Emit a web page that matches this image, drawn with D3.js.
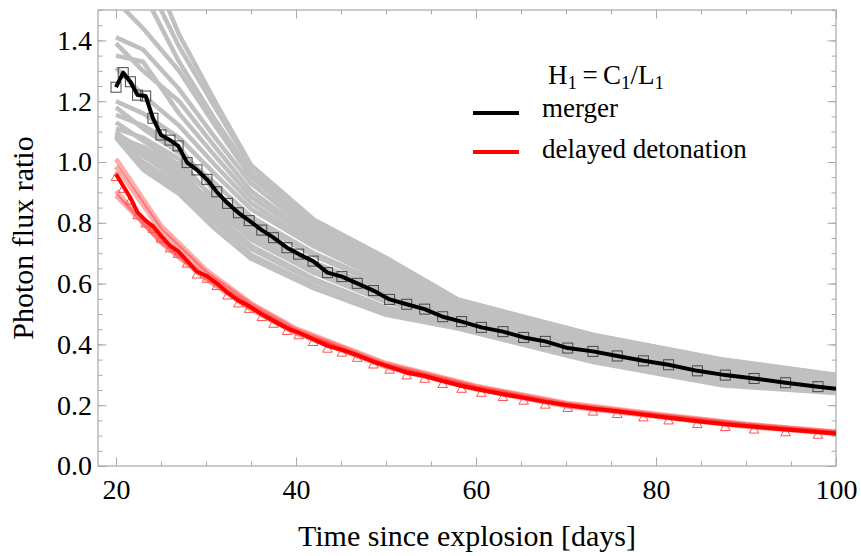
<!DOCTYPE html>
<html><head><meta charset="utf-8">
<script src="https://cdn.jsdelivr.net/npm/d3@7/dist/d3.min.js"></script>
<style>body{margin:0;background:#fff}text{font-family:"Liberation Serif","Times New Roman",serif;fill:#000}</style>
</head><body>
<svg id="chart" width="861" height="556"></svg>
<script>
// ---- data ----
const times = [20.0, 20.8, 21.6, 22.4, 23.3, 24.1, 25.0, 26.0, 26.9, 27.9, 29.0, 30.1, 31.2, 32.4, 33.6, 34.8,
  36.2, 37.5, 39.0, 40.3, 41.9, 43.5, 45.1, 46.8, 48.6, 50.4, 52.3, 54.3, 56.3, 58.4, 60.6, 63.0, 65.3, 67.7,
  70.2, 73.0, 75.7, 78.6, 81.4, 84.6, 87.7, 90.9, 94.4, 98.0, 100.0];
const mergerValues = [1.246, 1.294, 1.264, 1.220, 1.217, 1.144, 1.089, 1.072, 1.053, 0.998, 0.974, 0.943, 0.902,
  0.864, 0.833, 0.807, 0.776, 0.751, 0.718, 0.697, 0.674, 0.636, 0.623, 0.601, 0.577, 0.548, 0.532, 0.516, 0.491,
  0.475, 0.456, 0.442, 0.423, 0.410, 0.388, 0.377, 0.362, 0.346, 0.333, 0.313, 0.299, 0.288, 0.274, 0.261, 0.254];
const ddtValues = [0.960, 0.921, 0.882, 0.834, 0.807, 0.789, 0.757, 0.725, 0.707, 0.675, 0.639, 0.625, 0.601,
  0.570, 0.544, 0.526, 0.499, 0.477, 0.453, 0.439, 0.417, 0.395, 0.382, 0.365, 0.343, 0.326, 0.307, 0.296, 0.279,
  0.263, 0.250, 0.236, 0.224, 0.211, 0.200, 0.188, 0.180, 0.169, 0.159, 0.147, 0.137, 0.129, 0.120, 0.112, 0.107];

const modelTimes = [20, 23, 27, 31, 35, 42, 50, 58, 73, 87.5, 100];
const mergerModels = [
  [1.95, 1.70, 1.42, 1.20, 0.99, 0.81, 0.685, 0.548, 0.432, 0.350, 0.300],
  [1.80, 1.62, 1.38, 1.18, 0.985, 0.805, 0.678, 0.545, 0.430, 0.349, 0.299],
  [1.72, 1.56, 1.33, 1.14, 0.965, 0.795, 0.666, 0.541, 0.427, 0.347, 0.297],
  [1.53, 1.44, 1.30, 1.12, 0.95, 0.78, 0.657, 0.536, 0.423, 0.344, 0.295],
  [1.41, 1.37, 1.24, 1.08, 0.93, 0.765, 0.646, 0.530, 0.419, 0.341, 0.293],
  [1.39, 1.30, 1.20, 1.05, 0.905, 0.752, 0.636, 0.526, 0.415, 0.337, 0.291],
  [1.35, 1.33, 1.16, 1.02, 0.885, 0.745, 0.630, 0.522, 0.411, 0.334, 0.289],
  [1.31, 1.22, 1.12, 0.99, 0.865, 0.73, 0.616, 0.514, 0.405, 0.330, 0.286],
  [1.20, 1.16, 1.08, 0.96, 0.845, 0.722, 0.608, 0.507, 0.401, 0.327, 0.284],
  [1.18, 1.11, 1.03, 0.93, 0.82, 0.70, 0.595, 0.500, 0.395, 0.322, 0.280],
  [1.155, 1.12, 1.05, 0.90, 0.805, 0.692, 0.588, 0.496, 0.391, 0.319, 0.278],
  [1.13, 1.07, 0.99, 0.88, 0.785, 0.67, 0.575, 0.488, 0.385, 0.312, 0.273],
  [1.11, 1.08, 1.01, 0.87, 0.775, 0.662, 0.568, 0.482, 0.380, 0.307, 0.270],
  [1.095, 1.04, 0.965, 0.86, 0.76, 0.645, 0.555, 0.474, 0.372, 0.298, 0.264],
  [1.083, 1.05, 0.98, 0.845, 0.752, 0.638, 0.548, 0.469, 0.367, 0.292, 0.259],
  [1.095, 1.03, 0.955, 0.85, 0.745, 0.635, 0.54, 0.468, 0.360, 0.284, 0.253],
  [1.10, 1.02, 0.94, 0.83, 0.725, 0.615, 0.522, 0.462, 0.353, 0.276, 0.248],
  [1.09, 1.00, 0.925, 0.815, 0.715, 0.608, 0.515, 0.459, 0.350, 0.272, 0.245],
  [1.085, 0.985, 0.91, 0.80, 0.695, 0.592, 0.503, 0.454, 0.345, 0.267, 0.242],
  [1.08, 0.975, 0.895, 0.78, 0.682, 0.584, 0.497, 0.452, 0.342, 0.265, 0.240]
];

const ddtModelTimes = [20, 25, 30, 35, 40, 50, 60, 70, 80, 90, 100];
const ddtModels = [
  [1.010, 0.790, 0.645, 0.535, 0.452, 0.338, 0.263, 0.207, 0.171, 0.138, 0.113],
  [0.985, 0.775, 0.635, 0.530, 0.447, 0.334, 0.260, 0.204, 0.168, 0.136, 0.111],
  [0.905, 0.735, 0.615, 0.515, 0.437, 0.326, 0.253, 0.197, 0.163, 0.130, 0.106],
  [0.890, 0.740, 0.620, 0.520, 0.440, 0.329, 0.256, 0.200, 0.165, 0.133, 0.108]
];

const xTicks = [20, 40, 60, 80, 100];
const yTicks = [0.0, 0.2, 0.4, 0.6, 0.8, 1.0, 1.2, 1.4];
const xLabel = "Time since explosion [days]";
const yLabel = "Photon flux ratio";
const legendNames = ["merger", "delayed detonation"];
const legendColors = ["#000000", "#ff0000"];

// ---- layout ----
const L = 98, R = 836, T = 10, B = 466;
const x = d3.scaleLinear().domain([18, 100]).range([L, R]);
const y = d3.scaleLinear().domain([0, 1.5]).range([B, T]);
const svg = d3.select("#chart");

svg.append("clipPath").attr("id", "clip").append("rect")
  .attr("x", L).attr("y", T).attr("width", R - L).attr("height", B - T);

const frameColor = "#a8a8a8";
const minorX = d3.range(20, 100.1, 5), minorY = d3.range(0, 1.501, 0.05);

function ticks(axisFn, scale, vals, size, tr, fmt, pad) {
  const a = axisFn(scale).tickValues(vals).tickSize(size).tickPadding(pad || 0).tickFormat(fmt || "");
  const g = svg.append("g").attr("transform", tr).call(a);
  g.select(".domain").remove();
  g.selectAll("line").attr("stroke", frameColor).attr("stroke-width", 1);
  return g;
}
ticks(d3.axisBottom, x, minorX, -4.5, `translate(0,${B})`);
ticks(d3.axisTop, x, minorX, -4.5, `translate(0,${T})`);
ticks(d3.axisLeft, y, minorY, -4.5, `translate(${L},0)`);
ticks(d3.axisRight, y, minorY, -4.5, `translate(${R},0)`);
const gx = ticks(d3.axisBottom, x, xTicks, -8.5, `translate(0,${B})`, d3.format("d"), 13);
const gy = ticks(d3.axisLeft, y, yTicks, -8.5, `translate(${L},0)`, d3.format(".1f"), 6);
ticks(d3.axisTop, x, xTicks, -8.5, `translate(0,${T})`);
ticks(d3.axisRight, y, yTicks, -8.5, `translate(${R},0)`);
[gx, gy].forEach(g => g.selectAll("text").attr("fill", "#000")
  .style("font-family", '"Liberation Serif","Times New Roman",serif').style("font-size", "28px"));

svg.append("rect").attr("x", L).attr("y", T).attr("width", R - L).attr("height", B - T)
  .attr("fill", "none").attr("stroke", frameColor).attr("stroke-width", 1.2);

const plot = svg.append("g").attr("clip-path", "url(#clip)");
const modelLine = tt => d3.line().x((d, i) => x(tt[i])).y(d => y(d));

plot.selectAll(".gm").data(mergerModels).join("path")
  .attr("d", modelLine(modelTimes)).attr("fill", "none")
  .attr("stroke", "#c0c0c0").attr("stroke-width", 4.5).attr("stroke-linejoin", "round");

plot.selectAll(".pm").data(ddtModels).join("path")
  .attr("d", modelLine(ddtModelTimes)).attr("fill", "none")
  .attr("stroke", "#ff0000").attr("stroke-opacity", 0.32).attr("stroke-width", 5).attr("stroke-linejoin", "round");

const markerIdx = d3.range(times.length).filter(i => times[i] < 99);

plot.selectAll(".tri").data(markerIdx).join("path")
  .attr("d", d3.symbol(d3.symbolTriangle, 40)())
  .attr("transform", i => `translate(${x(times[i])},${y(ddtValues[i]) + 3.5})`)
  .attr("fill", "none").attr("stroke", "#ff5050").attr("stroke-width", 1);
plot.selectAll(".sq").data(markerIdx).join("rect")
  .attr("x", i => x(times[i]) - 5).attr("y", i => y(mergerValues[i]) - 5)
  .attr("width", 10).attr("height", 10)
  .attr("fill", "none").attr("stroke", "#4a4450").attr("stroke-width", 1);

const seriesLine = vals => d3.line().x((d, i) => x(times[i])).y(d => y(d))(vals);
plot.append("path").attr("d", seriesLine(ddtValues)).attr("fill", "none")
  .attr("stroke", legendColors[1]).attr("stroke-width", 4).attr("stroke-linejoin", "round");
plot.append("path").attr("d", seriesLine(mergerValues)).attr("fill", "none")
  .attr("stroke", legendColors[0]).attr("stroke-width", 4).attr("stroke-linejoin", "round");

svg.append("text").attr("x", 467).attr("y", 546).attr("text-anchor", "middle")
  .style("font-size", "30px").text(xLabel);
svg.append("text").attr("transform", `translate(33,${(T + B) / 2}) rotate(-90)`).attr("text-anchor", "middle")
  .style("font-size", "30px").text(yLabel);

// legend
const lt = svg.append("text").attr("x", 548).attr("y", 84).style("font-size", "27px");
const parts = [["H", 0], ["1", 1], ["\u2009=\u2009C", 0], ["1", 1], ["/L", 0], ["1", 1]];
parts.forEach(([s, sub], k) => {
  const ts = lt.append("tspan").text(s);
  if (sub) ts.attr("dy", 5).style("font-size", "19px");
  else if (k > 0) ts.attr("dy", -5);
});
legendNames.forEach((name, i) => {
  const yy = [113, 152][i];
  svg.append("line").attr("x1", 473).attr("x2", 519).attr("y1", yy).attr("y2", yy)
    .attr("stroke", legendColors[i]).attr("stroke-width", 4);
  svg.append("text").attr("x", 542).attr("y", [117, 158][i]).style("font-size", "27px").text(name);
});
</script>
</body></html>
